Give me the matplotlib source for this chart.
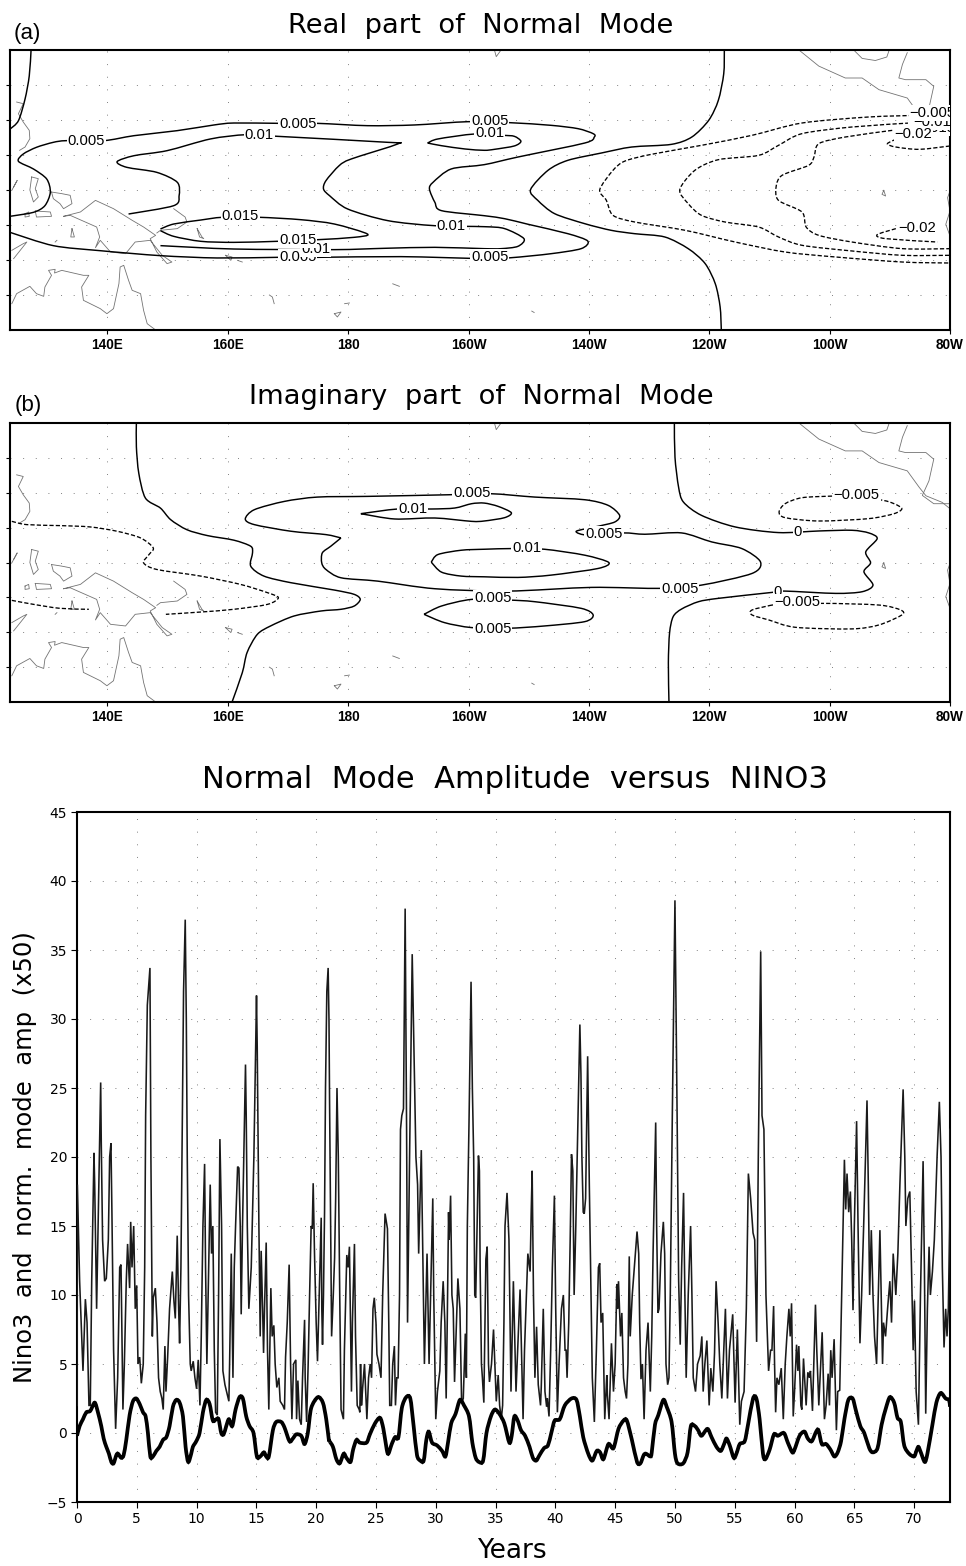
import matplotlib
matplotlib.use("Agg")
import matplotlib.pyplot as plt
from matplotlib.patches import PathPatch
from matplotlib.path import Path

# contours are (lon east, lat)
a_zero_left = [(127.3, 20), (127.0, 16.3), (126.3, 13), (125.2, 9.9), (123.8, 8.7)]
a_zero_right = [(242.5, 20), (242.4, 16.6), (241.5, 12.8), (239.9, 9.95), (237.1, 7.57), (233.7, 6.52),
                (227.1, 6.14), (222.1, 5.29), (216.5, 4.24), (213.2, 2.81), (210.3, 0.05), (211.5, -1.48),
                (214.3, -3.38), (219.3, -4.81), (223.7, -5.76), (227.6, -6.24), (232.6, -6.71), (236.5, -8.38),
                (239.3, -10.5), (241.0, -13.4), (241.8, -16.7), (242.0, -20)]
a_p005 = [(123.8, -3.76), (127.7, -3.19), (129.6, -2.24), (130.5, -0.33), (129.9, 1.57), (127.7, 3.0), (125.2, 4.1),
          (126.0, 5.14), (128.2, 6.1), (131.0, 6.81), (133.2, 7.05), (139.4, 7.05), (144.4, 7.76), (151.6, 8.48),
          (157.7, 9.29), (161.0, 9.57), (168.8, 9.52), (174.9, 9.52), (183.2, 9.19), (191.0, 9.29), (199.9, 9.76),
          (206.8, 9.62), (213.7, 9.24), (218.2, 8.76), (220.7, 8.05), (220.9, 7.57), (219.3, 6.71), (208.2, 4.71),
          (202.6, 3.62), (197.1, 3.0), (194.1, 1.1), (193.5, 0.14), (194.4, -1.76), (195.5, -2.95), (202.6, -3.67),
          (206.0, -4.1), (209.9, -4.9), (216.5, -6.24), (219.8, -7.29), (218.7, -8.38), (213.7, -9.1), (207.1, -9.67),
          (202.6, -9.8), (188.8, -9.52), (174.9, -9.62), (168.2, -9.62), (158.2, -9.71), (148.8, -9.38),
          (138.8, -8.67), (131.0, -7.95), (123.8, -6.05)]
a_p01 = [(143.5, -3.43), (151.0, -2.24), (151.9, -0.81), (151.6, 1.1), (148.2, 2.52), (143.2, 3.24), (141.6, 4.05),
         (144.4, 4.9), (149.9, 5.62), (157.1, 7.29), (163.0, 7.9), (168.2, 7.67), (186.6, 6.81), (188.2, 6.57),
         (180.5, 4.43), (178.5, 3.48), (176.3, 1.33), (175.9, 0.14), (176.9, -0.81), (179.9, -2.71), (186.6, -4.38),
         (194.4, -5.1), (202.6, -5.24), (206.0, -5.52), (209.2, -6.95), (208.2, -8.05), (205.4, -8.38), (202.6, -8.38),
         (194.4, -8.19), (186.0, -8.33), (177.7, -8.52), (161.0, -8.43), (148.8, -7.95)]
a_p01_small = [(193.2, 6.71), (194.9, 7.29), (201.0, 8.0), (205.7, 7.81), (207.6, 7.67), (208.7, 6.95), (207.6, 6.29),
               (204.3, 5.81), (202.6, 5.67), (199.4, 5.86), (195.5, 6.33), (193.2, 6.71)]
a_p015 = [(148.8, -5.57), (151.0, -4.86), (155.5, -4.29), (159.1, -3.9), (165.2, -3.9), (172.1, -4.24), (177.7, -4.86),
          (183.2, -6.29), (181.0, -6.76), (174.9, -7.1), (168.2, -7.33), (161.0, -7.48), (155.5, -7.33), (151.0, -6.62),
          (148.8, -5.81)]
a_m005 = [(274.9, 10.67), (266.5, 10.43), (255.4, 9.57), (247.1, 7.81), (238.7, 6.38), (230.4, 5.1), (226.0, 4.14),
          (224.0, 2.81), (221.8, 0.05), (222.9, -1.48), (224.0, -3.62), (227.6, -4.57), (236.0, -5.76), (244.3, -7.43),
          (252.6, -8.86), (261.0, -9.57), (272.1, -10.29), (280, -10.43)]
a_m01 = [(274.3, 9.62), (263.7, 9.0), (255.4, 8.05), (251.5, 6.38), (248.2, 4.95), (241.5, 4.33), (237.6, 2.81),
         (235.1, 0.05), (236.5, -1.95), (238.7, -3.62), (242.6, -4.57), (248.2, -5.29), (251.5, -6.71), (255.4, -7.9),
         (263.7, -8.71), (272.1, -9.33), (280, -9.33)]
a_m015 = [(270.4, 8.52), (262.6, 7.57), (258.2, 6.62), (257.4, 4.71), (256.5, 3.52), (252.1, 2.1), (251.1, 0.43),
          (251.5, -1.48), (255.4, -3.14), (256.1, -5.29), (258.2, -6.48), (263.7, -7.43), (272.1, -8.38), (280, -8.38)]
a_m02_top = [(280, 6.29), (274.9, 5.81), (271.0, 6.14), (269.6, 6.62), (271.5, 7.43)]
a_m02_low = [(271, -5.52), (267.9, -6.38), (269.3, -6.95), (277.9, -7.43)]

a_solid = [a_zero_left, a_zero_right, a_p005, a_p01, a_p01_small, a_p015]
a_dashed = [a_m005, a_m01, a_m015, a_m02_top, a_m02_low]
a_labels = [(136.5, 7.05, "0.005"), (171.6, 9.43, "0.005"), (203.5, 9.86, "0.005"), (165.2, 7.9, "0.01"),
            (203.5, 8.14, "0.01"), (162.1, -3.76, "0.015"), (171.6, -9.62, "0.005"), (203.5, -9.57, "0.005"),
            (174.6, -8.43, "0.01"), (171.6, -7.14, "0.015"), (197.1, -5.1, "0.01"),
            (277, 8.86, "\u22120.015"), (277, 9.7, "\u22120.01"), (277.1, 11, "\u22120.005"), (273.9, 8, "\u22120.02"),
            (274.6, -5.43, "\u22120.02")]

b_zero_left = [(144.8, 20), (144.8, 16.6), (145.2, 12.8), (146.3, 9.24), (148.8, 7.8), (150.5, 6.14), (153.2, 4.7),
               (156.6, 3.86), (161.0, 3.2), (163.8, 2.33), (164.1, 1.38), (163.8, -0.52), (166.0, -1.95), (170.5, -2.9),
               (177.7, -3.95), (181.0, -4.57), (182.0, -5.29), (181.0, -6.24), (178.8, -6.71), (175.5, -6.95),
               (171.0, -7.67), (167.1, -9.1), (164.9, -10.3), (163.2, -12.9), (162.4, -15.8), (160.7, -20)]
b_zero_right = [(234.2, 20), (234.3, 15.1), (234.9, 10.8), (235.7, 8.67), (238.7, 6.76), (244.3, 5.1), (251.5, 4.29),
                (258.2, 4.52), (263.7, 4.62), (266.5, 4.24), (267.9, 3.43), (266.0, 1.52), (266.8, -0.05),
                (265.7, -1.33), (267.2, -3.24), (265.4, -4.19), (261.0, -4.43), (252.6, -4.1), (250.4, -4.29),
                (241.5, -5.14), (238.2, -5.62), (235.4, -6.67), (234.0, -7.76), (233.4, -10.1), (233.2, -14.4),
                (233.3, -20)]
b_m005_west = [(124.1, 5.9), (126.6, 5.43), (132.1, 5.29), (137.1, 5.1), (141.6, 4.48), (145.5, 3.52), (147.6, 2.1),
               (146.9, 1.14), (146.0, -0.05), (148.2, -1.0), (155.5, -1.95), (162.1, -3.14), (166.6, -4.33),
               (168.4, -5.05), (166.6, -6.0), (161.0, -6.71), (155.5, -7.1), (149.7, -7.43)]
b_m005_west2 = [(124.1, -5.43), (127.7, -6.0), (132.1, -6.57), (136.9, -6.71)]
b_p005 = [(178.8, 3.52), (176.3, 4.0), (170.5, 4.48), (164.4, 5.43), (162.9, 6.24), (164.4, 7.57), (169.4, 8.76),
          (174.9, 9.38), (183.2, 9.48), (196.6, 9.71), (203.7, 9.86), (211.0, 9.38), (219.3, 9.0), (223.2, 8.19),
          (225.1, 6.76), (224.3, 5.81), (221.5, 5.19), (217.9, 4.48), (219.9, 3.9), (225.7, 4.24), (229.3, 4.05),
          (235.4, 4.24), (240.4, 2.95), (245.4, 2.0), (248.5, 0.1), (247.1, -1.57), (238.7, -3.24), (232.1, -3.71),
          (220.4, -3.57), (206.5, -4.1), (194.4, -3.76), (184.9, -2.67), (178.8, -2.19), (176.3, -1.0), (175.6, -0.05),
          (175.7, 1.38), (177.1, 2.33), (178.8, 3.52)]
b_p01_top = [(182.1, 7.0), (188.2, 7.67), (193.8, 7.67), (197.7, 7.81), (200.5, 8.43), (202.6, 8.52), (204.9, 8.05),
             (207.1, 7.14), (206.0, 6.43), (202.6, 5.95), (200.5, 5.9), (194.4, 6.38), (187.7, 6.24), (182.1, 7.0)]
b_p01_mid = [(193.8, 0.05), (194.9, 1.14), (198.8, 1.76), (202.6, 1.9), (207.4, 2.0), (212.6, 1.9), (219.3, 1.05),
             (223.3, 0), (221.5, -0.86), (213.7, -1.81), (208.2, -2.14), (202.6, -2.05), (198.8, -1.95), (195.5, -1.38),
             (193.8, 0.05)]
b_p005_low = [(192.6, -7.43), (195.5, -6.24), (200.5, -5.29), (206.5, -5.38), (211.0, -5.62), (218.7, -6.57),
              (220.7, -7.52), (219.3, -8.48), (212.6, -9.1), (206.5, -9.43), (200.5, -9.33), (196.0, -8.62),
              (192.6, -7.43)]
b_m005_top = [(260.4, 9.52), (255.4, 9.29), (252.6, 8.43), (251.6, 7.24), (252.6, 6.43), (258.2, 5.95), (266.5, 6.29),
              (270.7, 7.0), (272.0, 7.71), (270.7, 8.43), (268.2, 9.0), (260.4, 9.52)]
b_m005_low = [(250.4, -6.1), (247.1, -6.81), (247.1, -7.52), (249.9, -8.24), (254.3, -9.29), (263.7, -9.52),
              (268.2, -8.95), (272, -7.52), (271.8, -6.81), (268.2, -6.1), (258.7, -5.86), (250.4, -6.1)]

b_solid = [b_zero_left, b_zero_right, b_p005, b_p01_top, b_p01_mid, b_p005_low]
b_dashed = [b_m005_west, b_m005_west2, b_m005_top, b_m005_low]
b_labels = [(200.5, 9.95, "0.005"), (190.7, 7.67, "0.01"), (222.5, 4.05, "0.005"), (209.7, 2.1, "0.01"),
            (235.1, -3.81, "0.005"), (204, -5.14, "0.005"), (204, -9.52, "0.005"), (254.7, 4.38, "0"),
            (251.4, -4.19, "0"), (264.5, 9.62, "\u22120.005"), (254.6, -5.62, "\u22120.005")]

coast = [
    [(132.7, -3.76), (135.5, -3.14), (138.0, -1.48), (141.0, -2.67), (144.1, -4.33), (146.0, -5.29), (148.0, -6.48),
     (147.1, -6.95), (148.2, -8.86), (149.9, -10.52), (150.7, -10.29), (149.1, -9.33), (147.1, -7.19), (144.6, -7.43),
     (143.0, -9.1), (140.5, -8.86), (138.8, -7.19), (138.0, -8.24), (138.7, -6.71), (138.2, -5.29), (133.8, -3.62),
     (132.7, -3.76)],
    [(124.1, -16.24), (124.9, -14.81), (127.1, -13.76), (128.2, -14.81), (129.4, -15.19), (129.6, -13.86),
     (130.7, -12.19), (130.2, -11.48), (131.3, -11.33), (131.2, -11.86), (132.4, -11.48), (136.0, -12.19),
     (136.9, -12.19), (135.7, -13.86), (136.0, -15.76), (138.8, -16.95), (139.9, -17.67), (141.0, -16.95),
     (141.9, -13.38), (142.1, -11), (142.7, -10.76), (143.5, -12.9), (144.1, -14.33), (145.5, -14.81), (146.0, -17.2),
     (146.6, -19.1), (148.0, -20)],
    [(124.9, 12.57), (126.0, 12.33), (125.2, 10.9), (126.0, 9.71), (127, 8.52), (127.1, 7.33), (126.3, 6.14),
     (125.4, 5.67)],
    [(127.4, 1.86), (128.5, 1.62), (128, 0.19), (128.5, -1), (127.7, -1.71), (127.1, 0), (127.4, 1.86)],
    [(124.1, -0.05), (125, 1.38), (124.4, 0.43)],
    [(130.7, -0.29), (132.4, -0.52), (133.8, -0.76), (134.1, -1.95), (132.7, -2.67), (132.1, -1.95), (131, -1.24),
     (130.7, -0.29)],
    [(126.3, -3.38), (126.9, -3.14), (127, -3.76), (126.3, -3.86), (126.3, -3.38)],
    [(128, -3), (130.5, -3.14), (130.7, -3.76), (128.2, -3.86), (128, -3)],
    [(151, -2.67), (152.9, -3.86), (153.2, -4.57), (151.6, -5.52), (148.8, -5.76), (148.2, -6.14)],
    [(154.9, -5.52), (155.7, -6.71), (156, -6.95), (155.3, -6.71), (154.9, -5.52)],
    [(124.1, -8.62), (126, -7.67), (126.6, -7.43), (124.4, -9.81)],
    [(131.3, -7.43), (131.6, -7.19)],
    [(134.1, -5.52), (134.5, -6.71), (133.9, -6.71), (134.1, -5.52)],
    [(159.6, -9.33), (160.7, -9.57), (160.5, -10.05), (159.6, -9.33)],
    [(161.6, -10.05), (162.4, -10.29)],
    [(166.9, -15), (167.4, -15.29), (167.7, -16.24)],
    [(177.7, -17.67), (178.8, -17.43), (178.2, -18.14), (177.7, -17.67)],
    [(179.4, -16.24), (180.2, -16.14)],
    [(187.4, -13.4), (188.5, -13.76)],
    [(204.3, 20), (205.4, 20), (204.6, 19.05), (204.3, 20)],
    [(269, -0.05), (269.3, -0.86), (268.7, -0.62), (269, -0.05)],
    [(210.5, -17.3), (210.9, -17.5)],
    [(255.1, 19.86), (258.2, 17.7), (262.6, 16), (265.4, 16), (268.2, 14.33), (272.9, 13.14), (274.9, 10.76),
     (276, 9.57), (278.7, 8.62), (280, 7.71)],
    [(264, 20), (265.4, 18.8), (267.6, 18.5), (269.5, 19), (269.9, 20)],
    [(272.9, 19.62), (272.1, 17.95), (271.5, 16), (272.6, 15.76), (276, 15.76), (277.3, 14.81), (276.5, 11.7),
     (275.4, 9.62), (277.3, 8.43), (280, 8.43)],
    [(280, -0.14), (279.6, -1.1), (280, -3), (279.3, -4.9), (280, -6.57)],
]

lon_ticks = [140, 160, 180, 200, 220, 240, 260, 280]
lon_tick_labels = ["140E", "160E", "180", "160W", "140W", "120W", "100W", "80W"]
lat_ticks = [-15, -10, -5, 0, 5, 10, 15]

# normal mode amplitude x50, (year, value) at the turning points of the thin curve
amp_pts = [
    (0.0, 2), (0.03, 18), (0.14, 13.8), (0.22, 11), (0.5, 4.5), (0.7, 9.7), (0.84, 8), (1.0, 2), (1.11, 2), (1.23, 11),
    (1.42, 20.3), (1.48, 18), (1.64, 9), (1.98, 25.4), (2.03, 21), (2.14, 14), (2.31, 11), (2.45, 11.2), (2.62, 14),
    (2.73, 20), (2.84, 21), (2.92, 16), (3.06, 6), (3.23, 0.3), (3.4, 4), (3.57, 12), (3.68, 12.2), (3.76, 7),
    (3.84, 1.7), (3.96, 5), (4.12, 11), (4.23, 13.7), (4.4, 10.5), (4.49, 15.3), (4.6, 12), (4.74, 15), (4.87, 9),
    (4.99, 10.7), (5.1, 5), (5.24, 5.5), (5.38, 3.6), (5.54, 5), (5.66, 12), (5.74, 23), (5.88, 31), (6.1, 33.7),
    (6.18, 20), (6.3, 7), (6.38, 9.8), (6.55, 10.5), (6.69, 8), (6.82, 4), (6.96, 3), (7.1, 2.5), (7.21, 1.7),
    (7.35, 6.3), (7.44, 3), (7.58, 5.5), (7.74, 9), (7.97, 11.7), (8.11, 9.5), (8.22, 8.3), (8.38, 14.3), (8.5, 9),
    (8.58, 6.5), (8.69, 12), (8.8, 22), (8.91, 32), (9.05, 37.2), (9.14, 30), (9.22, 20), (9.33, 10), (9.47, 5),
    (9.55, 4.5), (9.72, 5.2), (9.86, 4), (10.0, 3.2), (10.14, 5.3), (10.28, 2), (10.39, 7), (10.53, 15), (10.67, 19.5),
    (10.75, 12), (10.86, 5), (10.97, 10), (11.14, 18), (11.25, 13), (11.36, 15), (11.48, 6), (11.59, 1.5), (11.73, 1.3),
    (11.84, 10), (11.95, 21.3), (12.09, 15), (12.2, 4.5), (12.37, 3.5), (12.51, 3), (12.7, 2.3), (12.76, 5), (12.9, 13),
    (13.04, 4), (13.15, 12), (13.26, 15), (13.43, 19.3), (13.54, 19.2), (13.65, 15), (13.73, 8.6), (13.84, 15),
    (14.09, 26.7), (14.15, 23), (14.24, 15), (14.37, 9), (14.57, 12), (14.79, 20), (15.01, 31.7), (15.07, 28),
    (15.21, 15), (15.32, 7), (15.4, 13.2), (15.52, 9), (15.6, 5.8), (15.68, 9), (15.82, 13.8), (15.93, 6), (16.04, 1.7),
    (16.21, 10.5), (16.32, 7), (16.46, 7.8), (16.57, 5), (16.71, 3.3), (16.88, 4), (16.99, 2.3), (17.21, 2), (17.35, 1.7),
    (17.44, 5.5), (17.58, 8), (17.74, 12.2), (17.86, 5), (17.97, 1), (18.11, 5), (18.3, 5.3), (18.36, 1), (18.47, 3.8),
    (18.61, 1), (18.75, 0.6), (18.86, 4), (19.03, 8.2), (19.08, 4), (19.2, 0.8), (19.33, 5), (19.45, 10), (19.58, 15),
    (19.67, 14.8), (19.75, 18.1), (19.86, 13), (20.0, 8), (20.11, 5.2), (20.22, 9), (20.42, 15.6), (20.47, 9),
    (20.53, 6.4), (20.61, 10), (20.7, 16), (20.78, 25), (20.89, 32), (21.0, 33.7), (21.07, 30), (21.12, 24), (21.21, 15),
    (21.29, 7), (21.43, 10), (21.54, 12.7), (21.63, 17), (21.74, 25), (21.85, 20), (21.97, 10), (22.08, 1.7), (22.28, 1),
    (22.36, 6), (22.56, 12.9), (22.67, 12), (22.78, 13.5), (22.87, 8), (22.95, 3), (23.03, 8), (23.2, 13.7), (23.29, 7),
    (23.43, 2), (23.6, 1.7), (23.65, 1.5), (23.71, 5), (23.79, 2), (23.88, 3.2), (24.04, 5), (24.24, 1), (24.38, 4),
    (24.52, 5), (24.63, 4), (24.75, 9), (24.86, 9.8), (25.0, 8), (25.08, 5.7), (25.25, 5), (25.42, 4), (25.56, 10),
    (25.76, 15.9), (25.96, 14.8), (26.07, 8), (26.15, 2), (26.29, 2), (26.4, 5), (26.54, 6.3), (26.63, 2), (26.74, 4),
    (26.85, 4), (26.97, 10), (27.05, 22), (27.16, 23), (27.3, 23.5), (27.44, 38), (27.56, 22), (27.64, 8), (27.81, 20),
    (28.03, 34.7), (28.17, 28), (28.34, 20), (28.48, 18), (28.57, 13), (28.79, 20.5), (28.9, 14), (29.05, 5), (29.27, 13),
    (29.44, 5), (29.75, 17), (29.83, 10), (30.0, 1), (30.14, 3), (30.22, 3.6), (30.34, 4.5), (30.45, 8), (30.62, 11),
    (30.76, 8), (30.87, 2.5), (30.96, 8), (31.07, 16), (31.12, 14), (31.24, 17.2), (31.35, 10), (31.46, 9), (31.57, 3.7),
    (31.69, 7), (31.85, 11.2), (32.02, 9), (32.16, 2.2), (32.3, 2.5), (32.47, 7.2), (32.56, 4), (32.64, 15), (32.78, 22.5),
    (32.95, 32.7), (33.06, 25), (33.17, 20), (33.26, 10), (33.34, 9.8), (33.57, 20.1), (33.65, 19), (33.71, 12),
    (33.82, 5), (33.9, 4), (34.02, 2.2), (34.19, 12.6), (34.3, 13.5), (34.41, 5), (34.49, 3.7), (34.66, 5), (34.83, 7.5),
    (34.94, 5), (35.06, 2.3), (35.22, 4.2), (35.34, 2), (35.48, 1), (35.59, 2), (35.7, 8), (35.79, 15), (35.96, 17.4),
    (36.12, 14), (36.21, 8), (36.29, 3), (36.49, 11), (36.71, 3), (36.85, 6), (37.05, 10.4), (37.19, 5), (37.3, 1),
    (37.42, 6), (37.7, 13), (37.89, 11.7), (37.98, 16), (38.06, 19), (38.17, 10), (38.29, 4), (38.43, 7.7), (38.57, 3.5),
    (38.76, 2), (38.82, 3.3), (38.99, 9), (39.13, 3), (39.27, 1.9), (39.33, 2.5), (39.47, 1.2), (39.61, 6), (39.75, 12),
    (39.92, 17.2), (40.03, 9), (40.17, 1.5), (40.31, 5), (40.51, 9), (40.67, 10), (40.81, 6), (40.9, 6), (40.98, 4),
    (41.12, 8), (41.24, 14), (41.35, 20.2), (41.46, 19), (41.57, 10), (41.71, 15), (41.85, 21), (42.05, 29.6), (42.14, 26),
    (42.22, 20), (42.33, 16), (42.42, 15.9), (42.53, 17), (42.7, 27.3), (42.84, 18), (42.98, 10), (43.09, 4), (43.26, 0.8),
    (43.43, 6), (43.6, 12), (43.71, 12.3), (43.82, 8), (43.96, 8.7), (44.13, 1), (44.3, 4.2), (44.35, 2.8), (44.49, 1),
    (44.69, 6.5), (44.86, 3), (45.0, 5), (45.14, 10.8), (45.2, 9), (45.28, 11), (45.45, 7), (45.56, 8.7), (45.7, 4),
    (45.84, 3), (45.95, 2.5), (46.07, 5), (46.18, 12.8), (46.26, 7), (46.43, 10), (46.6, 12), (46.83, 14.6), (46.97, 13),
    (47.05, 8), (47.16, 3.9), (47.28, 5), (47.42, 1), (47.58, 6), (47.75, 8), (47.94, 3), (48.06, 7), (48.17, 13),
    (48.39, 22.5), (48.47, 15), (48.58, 8.7), (48.67, 9), (48.83, 13), (49.03, 15.3), (49.14, 13), (49.25, 5), (49.39, 3.5),
    (49.5, 4), (49.61, 10), (49.78, 23), (50.0, 38.6), (50.17, 24), (50.31, 11), (50.44, 6.4), (50.56, 12), (50.72, 17.4),
    (50.83, 10), (50.94, 4), (51.11, 10), (51.31, 15), (51.42, 10), (51.53, 4), (51.72, 3), (51.89, 5), (52.11, 5.6),
    (52.25, 7), (52.36, 3), (52.5, 5), (52.67, 6.7), (52.86, 2), (53.0, 4.7), (53.17, 3), (53.31, 5.8), (53.44, 11),
    (53.61, 8), (53.75, 5), (53.92, 2.5), (54.22, 9), (54.39, 2.5), (54.56, 6), (54.83, 8.6), (54.94, 5), (55.03, 2.2),
    (55.22, 7.5), (55.42, 0.6), (55.56, 2.3), (55.78, 3), (55.97, 9), (56.14, 18.8), (56.33, 17), (56.53, 14.5),
    (56.67, 14), (56.83, 6.6), (56.97, 20), (57.17, 34.9), (57.28, 23), (57.44, 22), (57.61, 10), (57.83, 4.5), (58.0, 6),
    (58.11, 6), (58.25, 9.2), (58.33, 5), (58.42, 1.5), (58.53, 4), (58.69, 3.5), (58.89, 4.7), (59.06, 1), (59.22, 5),
    (59.36, 7), (59.53, 9), (59.64, 7), (59.75, 9.4), (59.89, 1.2), (60.0, 3), (60.17, 6.4), (60.28, 4.5), (60.36, 6.3),
    (60.53, 2), (60.61, 1.7), (60.75, 5.4), (60.97, 2), (61.11, 4.4), (61.25, 4), (61.33, 4.5), (61.5, 1.6), (61.75, 9.3),
    (61.86, 6), (62.03, 2), (62.31, 7.3), (62.5, 1), (62.64, 2), (62.81, 4.3), (62.92, 2), (63.03, 6), (63.14, 4),
    (63.31, 6.8), (63.42, 3), (63.5, 0.2), (63.61, 3), (63.78, 3.1), (63.94, 10), (64.17, 19.8), (64.28, 16.2),
    (64.39, 18.8), (64.53, 16), (64.67, 17.5), (64.78, 14), (64.89, 8.9), (65.0, 15), (65.19, 22.6), (65.31, 15),
    (65.47, 6.5), (65.61, 10), (65.78, 15), (66.06, 24.1), (66.17, 18), (66.28, 10), (66.42, 14.7), (66.56, 10), (66.69, 7),
    (66.86, 5), (67.14, 14.7), (67.36, 5), (67.44, 8), (67.61, 7), (67.78, 9), (67.97, 11), (68.11, 8), (68.25, 13),
    (68.47, 10), (68.64, 13), (68.81, 18), (69.08, 24.9), (69.22, 20), (69.31, 15), (69.47, 17), (69.64, 17.5), (69.78, 12),
    (69.92, 6), (70.03, 9.6), (70.17, 3), (70.36, 0.6), (70.53, 10), (70.75, 19.7), (70.86, 12), (70.97, 1.4), (71.11, 9),
    (71.25, 13.5), (71.36, 10), (71.53, 11.7), (71.69, 14), (71.92, 20), (72.11, 24), (72.25, 20), (72.36, 12), (72.5, 6.2),
    (72.64, 9), (72.75, 7), (72.86, 9), (72.97, 15), (73.0, 22),
]

# NINO3, thick curve
nino_pts = [
    (0, -0.2), (0.22, 0.5), (0.5, 1), (0.78, 1.5), (1.11, 1.6), (1.48, 2.2), (1.75, 1.5), (2.03, 0.5), (2.23, -0.4),
    (2.45, -1), (2.67, -1.5), (2.87, -2.1), (3.06, -2.2), (3.29, -1.6), (3.43, -1.5), (3.7, -1.8), (3.9, -1.6),
    (4.12, -0.5), (4.4, 1.3), (4.68, 2.3), (4.96, 2.5), (5.24, 2.1), (5.52, 1.5), (5.74, 1.2), (5.93, 0), (6.13, -1.7),
    (6.35, -1.7), (6.63, -1.3), (6.91, -1), (7.19, -0.5), (7.47, -0.3), (7.74, 0.5), (8.02, 1.9), (8.3, 2.4), (8.58, 2.2),
    (8.86, 1.2), (9.08, -1), (9.3, -2.1), (9.55, -1.5), (9.69, -1), (9.97, -0.6), (10.25, 0), (10.53, 1.5), (10.81, 2.4),
    (11.09, 2.1), (11.36, 0.9), (11.64, 1), (11.84, 1), (12.06, 0), (12.26, -0.1), (12.48, 0.5), (12.7, 1), (12.98, 0.5),
    (13.26, 1.7), (13.59, 2.6), (13.87, 2.5), (14.15, 1.2), (14.43, 0.5), (14.76, 0), (15.04, -1.7), (15.32, -1.7),
    (15.63, -1.4), (15.82, -1.7), (16.04, -1.7), (16.38, 0.2), (16.66, 0.8), (17.08, 0.8), (17.35, 0.4), (17.77, -0.6),
    (18.05, -0.4), (18.33, -0.1), (18.75, -0.2), (19.03, -0.8), (19.3, 0), (19.58, 1.8), (20.14, 2.6), (20.56, 2.2),
    (20.84, 1), (21.06, -0.5), (21.12, -0.6), (21.4, -1), (21.69, -1.9), (21.97, -2.2), (22.3, -1.5), (22.53, -1.8),
    (22.87, -2.1), (23.09, -1.2), (23.37, -0.5), (23.65, -0.7), (24.21, -0.7), (24.49, -0.1), (24.92, 0.7), (25.34, 1.1),
    (25.62, 0.3), (25.9, -1.2), (26.04, -1.5), (26.32, -0.8), (26.6, -0.3), (26.88, -0.3), (27.16, 1.8), (27.53, 2.6),
    (27.87, 2.5), (28.15, 0.5), (28.43, -1.6), (28.71, -2), (28.99, -2), (29.21, -0.5), (29.41, 0.1), (29.69, -0.7),
    (30.11, -0.9), (30.53, -1.3), (30.81, -1.7), (31.04, -0.6), (31.29, 0.7), (31.66, 1.4), (32.02, 2.4), (32.36, 2),
    (32.78, 1.2), (33.06, -0.7), (33.34, -1.8), (33.62, -2.1), (33.96, -2), (34.24, 0), (34.61, 1.2), (34.94, 1.7),
    (35.31, 1.4), (35.73, 0.7), (36.15, -0.7), (36.35, -0.2), (36.57, 1.2), (36.85, 0.9), (37.13, 0.2), (37.47, -0.2),
    (37.84, -1), (38.12, -1.8), (38.4, -2), (38.68, -1.6), (39.05, -1.1), (39.38, -0.9), (39.66, 0), (39.94, 0.9),
    (40.37, 1), (40.79, 2), (41.35, 2.5), (41.77, 2.4), (42.05, 1.2), (42.33, -0.3), (42.75, -1.5), (43.09, -2),
    (43.46, -1.3), (43.74, -1.4), (44.02, -1.9), (44.44, -0.8), (44.86, -1.1), (45.28, 0.3), (45.7, 0.9), (45.98, 0.9),
    (46.4, -0.5), (46.83, -2.1), (47.11, -2.2), (47.39, -1.6), (47.58, -1.5), (47.95, -1.7), (48.06, -1.4), (48.33, 0.6),
    (48.61, 1.3), (49.03, 2.4), (49.31, 1.9), (49.72, 0.8), (50, -1.5), (50.22, -2.2), (50.69, -2.2), (51.06, -1.4),
    (51.33, 0.5), (51.67, 0.5), (51.94, 0.2), (52.22, -0.2), (52.72, 0.3), (53.06, -0.3), (53.47, -1), (53.83, -1.3),
    (54.11, -0.8), (54.31, -0.4), (54.58, -0.9), (54.92, -1.8), (55.14, -1.5), (55.42, -0.8), (55.83, -0.6), (56.11, 0.6),
    (56.53, 2.5), (56.81, 2.5), (57.08, 1), (57.36, -1.5), (57.56, -1.9), (57.92, -1.2), (58.28, -0.1), (58.61, -0.2),
    (59.11, 0), (59.44, -0.7), (59.81, -1.4), (60, -1.2), (60.42, -0.2), (60.83, 0.1), (61.11, -0.4), (61.44, -0.6),
    (61.81, 0.1), (62, 0.2), (62.28, -0.8), (62.64, -0.8), (63, -1.2), (63.33, -1.7), (63.61, -1.4), (63.89, -0.6),
    (64.17, 1), (64.5, 2.4), (64.86, 2.5), (65.14, 1.6), (65.5, 0.5), (65.83, 0), (66.25, -1.1), (66.53, -1.4),
    (66.94, -1.1), (67.28, 0.6), (67.64, 1.8), (67.97, 2.6), (68.33, 2.2), (68.61, 1.1), (68.89, 0.8), (69.17, -0.9),
    (69.58, -1.5), (70, -1.7), (70.19, -1.3), (70.36, -1), (70.56, -1.4), (70.89, -2.1), (71.11, -1.5), (71.53, 0.6),
    (71.86, 2.2), (72.22, 2.9), (72.64, 2.5), (72.92, 2.4), (73, 1.9),
]

W, H = 966, 1566
title_font = "DejaVu Sans"
label_font = "Liberation Sans"
grid_style = dict(color="0.5", linewidth=0.7, linestyle=(0, (1, 12)))


def make_axes(left, top, right, bottom):
    return fig.add_axes([left / W, 1 - bottom / H, (right - left) / W, (bottom - top) / H])


def smooth_line(ax, pts, **kw):
    # bezier through the read points so the curves are not angular
    verts = [pts[0]]
    for i in range(len(pts) - 1):
        p0 = pts[max(i - 1, 0)]
        p1 = pts[i]
        p2 = pts[i + 1]
        p3 = pts[min(i + 2, len(pts) - 1)]
        verts.append((p1[0] + (p2[0] - p0[0]) / 7, p1[1] + (p2[1] - p0[1]) / 7))
        verts.append((p2[0] - (p3[0] - p1[0]) / 7, p2[1] - (p3[1] - p1[1]) / 7))
        verts.append(p2)
    codes = [Path.MOVETO] + [Path.CURVE4] * (len(verts) - 1)
    ax.add_patch(PathPatch(Path(verts, codes), fill=False, **kw))


def draw_map(ax, solid, dashed, labels):
    ax.set_xlim(123.8, 280)
    ax.set_ylim(-20, 20)
    ax.set_xticks(lon_ticks)
    ax.set_xticklabels(lon_tick_labels, fontname=label_font, fontsize=9.8, fontweight="bold")
    ax.set_yticks(lat_ticks)
    ax.set_yticklabels([])
    ax.tick_params(length=3, width=0.8, pad=3)
    ax.grid(True, **grid_style)
    ax.set_axisbelow(True)
    for s in ax.spines.values():
        s.set_linewidth(1.5)

    for c in coast:
        ax.plot(*zip(*c), color="0.45", linewidth=0.6, zorder=2)
    for c in solid:
        smooth_line(ax, c, edgecolor="black", linewidth=1.05, zorder=3)
    for c in dashed:
        smooth_line(ax, c, edgecolor="black", linewidth=0.95, linestyle=(0, (3.2, 1.6)), zorder=3)
    for i, (lon, lat, txt) in enumerate(labels):
        ax.text(lon, lat, txt, fontname=label_font, fontsize=10.6, ha="center", va="center", zorder=4 + i * 0.01,
                clip_on=True, bbox=dict(facecolor="white", edgecolor="none", pad=0.6))


fig = plt.figure(figsize=(W / 100, H / 100), dpi=100)

ax_a = make_axes(10, 50, 950, 330)
draw_map(ax_a, a_solid, a_dashed, a_labels)
ax_b = make_axes(10, 423, 950, 702)
draw_map(ax_b, b_solid, b_dashed, b_labels)

fig.text(481 / W, 1 - 26 / H, "Real  part  of  Normal  Mode", fontname=title_font, fontsize=19.7, ha="center", va="center")
fig.text(481 / W, 1 - 397 / H, "Imaginary  part  of  Normal  Mode", fontname=title_font, fontsize=19.7, ha="center", va="center")
fig.text(14 / W, 1 - 33 / H, "(a)", fontname=label_font, fontsize=16, ha="left", va="center")
fig.text(15 / W, 1 - 406 / H, "(b)", fontname=label_font, fontsize=16, ha="left", va="center")

ax_c = make_axes(77, 812, 950, 1502)
ax_c.plot(*zip(*amp_pts), color="0.1", linewidth=1.15, solid_joinstyle="miter", zorder=3)
smooth_line(ax_c, nino_pts, edgecolor="black", linewidth=2.7, zorder=4)
ax_c.set_xlim(0, 73)
ax_c.set_ylim(-5, 45)
ax_c.set_xticks(range(0, 71, 5))
ax_c.set_yticks(range(-5, 46, 5))
ax_c.set_yticklabels([str(v).replace("-", "\u2212") for v in range(-5, 46, 5)])
ax_c.tick_params(length=4, width=0.8, labelsize=10, pad=3)
ax_c.grid(True, **grid_style)
ax_c.set_axisbelow(True)
for s in ax_c.spines.values():
    s.set_linewidth(1.5)

fig.text(515 / W, 1 - 780 / H, "Normal  Mode  Amplitude  versus  NINO3", fontname=title_font, fontsize=22, ha="center", va="center")
fig.text(512 / W, 1 - 1551 / H, "Years", fontname=title_font, fontsize=19, ha="center", va="center")
fig.text(25 / W, 1 - 1157 / H, "Nino3  and  norm.  mode  amp  (x50)", fontname=title_font, fontsize=17.5, rotation=90, ha="center", va="center")

fig.savefig("out.png", dpi=100)
